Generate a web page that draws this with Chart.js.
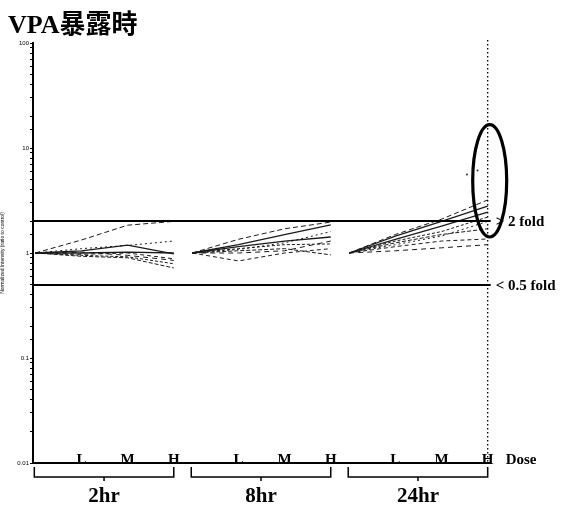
<!DOCTYPE html>
<html>
<head>
<meta charset="utf-8">
<script src="https://cdn.jsdelivr.net/npm/chart.js@4"></script>
<style>
  html, body { margin: 0; background: #fff; }
  #wrap { width: 571px; height: 506px; }
</style>
</head>
<body>
<div id="wrap"><canvas id="foldChart" width="571" height="506"></canvas></div>
<script>
// time points and doses
const groups = ["2hr", "8hr", "24hr"];
const doses = ["L", "M", "H"];
const groupStart = [0, 3.4, 6.8]; // x value of the control point of each time group
const yTickLabels = [0.01, 0.1, 1, 10, 100];
const foldLines = [2, 0.5];
const foldLabels = ["> 2 fold", "< 0.5 fold"];

// fold change vs control (control = 1) at L, M, H, one row per gene
const fold2hr = [
  [1.33, 1.84, 2.0],
  [1.05, 1.19, 0.98],
  [1.0, 1.02, 1.0],
  [0.95, 0.92, 0.79],
  [0.93, 0.9, 0.72],
  [1.1, 1.18, 1.3],
  [0.97, 1.0, 0.88],
  [1.02, 0.95, 0.85],
];
const fold8hr = [
  [1.35, 1.7, 1.97],
  [1.2, 1.5, 1.85],
  [1.15, 1.3, 1.42],
  [1.1, 1.2, 1.22],
  [1.05, 1.1, 0.96],
  [1.08, 1.25, 1.6],
  [0.84, 1.0, 1.1],
  [1.0, 1.05, 1.3],
];
const fold24hr = [
  [1.5, 2.1, 3.2],
  [1.45, 2.0, 2.8],
  [1.35, 1.8, 2.45],
  [1.3, 1.6, 2.2],
  [1.25, 1.5, 1.7],
  [1.2, 1.45, 2.0],
  [1.15, 1.3, 1.36],
  [1.05, 1.12, 1.2],
];
const strayPoints = [[9.35, 5.6], [9.58, 6.1]];
const circled = [1.42, 16.7]; // range inside the ellipse at 24hr H

const lineDashes = [[5, 3], [], [], [3, 2], [4, 2], [2, 3], [4, 3], [5, 4]];
const serif = '"Liberation Serif", "DejaVu Serif", "Noto Sans CJK JP", serif';

const allFolds = [fold2hr, fold8hr, fold24hr];
const datasets = fold2hr.map(function (_, gi) {
  const pts = [];
  allFolds.forEach(function (tbl, g) {
    pts.push({ x: groupStart[g], y: 1 });
    tbl[gi].forEach(function (v, d) {
      pts.push({ x: groupStart[g] + d + 1, y: v });
    });
    pts.push({ x: groupStart[g] + 3.2, y: null });
  });
  return {
    data: pts,
    borderColor: "#1a1a1a",
    borderWidth: lineDashes[gi].length ? 1 : 1.3,
    borderDash: lineDashes[gi],
    pointRadius: 0,
    spanGaps: false,
  };
});
datasets.push({
  type: "scatter",
  data: strayPoints.map(function (p) { return { x: p[0], y: p[1] }; }),
  pointRadius: 1,
  backgroundColor: "#333",
  borderWidth: 0,
});

// text, fold lines, brackets, ellipse
const annotate = {
  id: "annotate",
  afterDatasetsDraw(chart) {
    const { ctx, chartArea: a, scales: { x, y } } = chart;
    ctx.save();
    ctx.fillStyle = "#000";
    ctx.strokeStyle = "#000";

    // title
    ctx.font = "bold 26px " + serif;
    ctx.textBaseline = "alphabetic";
    ctx.textAlign = "left";
    ctx.fillText("VPA暴露時", 8, 33);

    const xLast = x.getPixelForValue(groupStart[2] + 3);

    // dotted line at 24hr H
    ctx.lineWidth = 1.3;
    ctx.setLineDash([1.5, 2.5]);
    ctx.beginPath();
    ctx.moveTo(xLast, 40);
    ctx.lineTo(xLast, a.bottom);
    ctx.stroke();
    ctx.setLineDash([]);

    // fold lines
    foldLines.forEach(function (f, i) {
      const py = Math.round(y.getPixelForValue(f));
      ctx.lineWidth = 2;
      ctx.beginPath();
      ctx.moveTo(a.left, py);
      ctx.lineTo(xLast + 3, py);
      ctx.stroke();
      ctx.font = "bold 15px " + serif;
      ctx.textBaseline = "middle";
      ctx.fillText(foldLabels[i], xLast + 8, py + 1);
    });

    // ellipse
    const top = y.getPixelForValue(circled[1]);
    const bot = y.getPixelForValue(circled[0]);
    ctx.lineWidth = 3.2;
    ctx.beginPath();
    ctx.ellipse(xLast + 2, (top + bot) / 2, 17, (bot - top) / 2, 0, 0, Math.PI * 2);
    ctx.stroke();

    // dose labels sitting on the axis
    ctx.font = "bold 15px " + serif;
    ctx.textBaseline = "alphabetic";
    ctx.textAlign = "center";
    groupStart.forEach(function (s) {
      doses.forEach(function (d, i) {
        ctx.fillText(d, x.getPixelForValue(s + i + 1), a.bottom + 1);
      });
    });
    ctx.textAlign = "left";
    ctx.fillText("Dose", xLast + 18, a.bottom + 1);

    // brackets and time labels
    ctx.lineWidth = 1.5;
    ctx.textAlign = "center";
    groupStart.forEach(function (s, g) {
      const x0 = x.getPixelForValue(s) - 1;
      const x1 = x.getPixelForValue(s + 3);
      const mid = (x0 + x1) / 2;
      ctx.beginPath();
      ctx.moveTo(x0, a.bottom + 4);
      ctx.lineTo(x0, a.bottom + 14);
      ctx.lineTo(x1, a.bottom + 14);
      ctx.lineTo(x1, a.bottom + 4);
      ctx.moveTo(mid, a.bottom + 14);
      ctx.lineTo(mid, a.bottom + 18);
      ctx.stroke();
      ctx.font = "bold 21px " + serif;
      ctx.fillText(groups[g], mid, a.bottom + 39);
    });
    ctx.restore();
  },
};

new Chart(document.getElementById("foldChart").getContext("2d"), {
  type: "line",
  data: { datasets: datasets },
  plugins: [annotate],
  options: {
    responsive: false,
    animation: false,
    layout: { padding: { left: 0, top: 43, right: 81, bottom: 0 } },
    plugins: { legend: { display: false }, tooltip: { enabled: false } },
    scales: {
      x: {
        type: "linear",
        min: -0.05,
        max: 9.85,
        border: { color: "#000", width: 2 },
        grid: { drawOnChartArea: false, drawTicks: false },
        ticks: { display: false },
        afterFit: function (s) { s.height = 43; },
      },
      y: {
        type: "logarithmic",
        min: 0.01,
        max: 100,
        border: { color: "#000", width: 2 },
        grid: { drawOnChartArea: false, drawTicks: true, tickLength: 3, color: "#000" },
        ticks: {
          autoSkip: false,
          color: "#000",
          padding: 1,
          font: { size: 6 },
          callback: function (v) {
            const hit = yTickLabels.find(function (l) { return Math.abs(l - v) / l < 1e-6; });
            return hit === undefined ? "" : String(hit);
          },
        },
        title: {
          display: true,
          text: "Normalized Intensity (ratio to control)",
          color: "#000",
          font: { size: 5 },
          padding: 0,
        },
        afterFit: function (s) { s.width = 33; },
      },
    },
  },
});
</script>
</body>
</html>
